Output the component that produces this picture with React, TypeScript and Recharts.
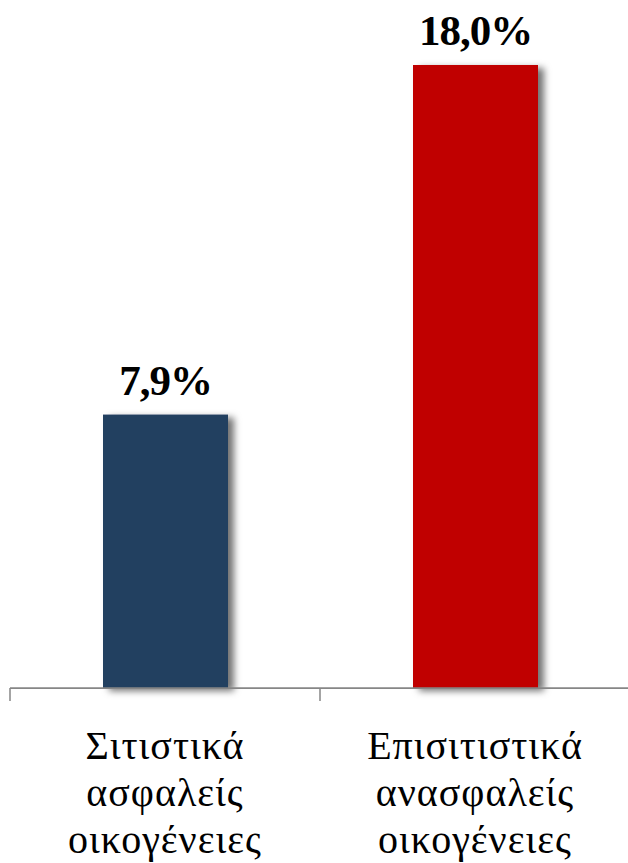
import React from "react";
import { BarChart, Bar, XAxis, YAxis, Cell, LabelList } from "recharts";

const CATEGORIES = ["Σιτιστικά ασφαλείς οικογένειες", "Επισιτιστικά ανασφαλείς οικογένειες"];
const VALUES = [7.9, 18.0];
const COLORS = ["#243F60", "#C00000"];

const data = CATEGORIES.map((name, i) => ({ name, value: VALUES[i] }));

const WIDTH = 628;
const HEIGHT = 863;
const MARGIN = { top: 65, right: -2, left: 10, bottom: 0 };
const XAXIS_HEIGHT = 175;
const PLOT_BOTTOM = HEIGHT - MARGIN.bottom - XAXIS_HEIGHT;
const BAND = (WIDTH - MARGIN.left - MARGIN.right) / CATEGORIES.length;
const FONT = "'Liberation Serif', 'Times New Roman', serif";

const fmt = (v: number) => v.toFixed(1).replace(".", ",") + "%";

const CategoryTick = (props: any) => {
  const { x, index, payload } = props;
  const lines = String(payload.value).split(" ");
  const half = BAND / 2;
  return (
    <g>
      <line x1={x - half} x2={x - half} y1={PLOT_BOTTOM} y2={PLOT_BOTTOM + 13} stroke="#868686" strokeWidth={1.5} />
      {index === CATEGORIES.length - 1 && (
        <line x1={x + half} x2={x + half} y1={PLOT_BOTTOM} y2={PLOT_BOTTOM + 13} stroke="#868686" strokeWidth={1.5} />
      )}
      <text x={x} y={PLOT_BOTTOM} textAnchor="middle" fontFamily={FONT} fontSize={40} letterSpacing={1} fill="#000">
        {lines.map((l, i) => (
          <tspan key={i} x={x} dy={i === 0 ? 71 : 47}>
            {l}
          </tspan>
        ))}
      </text>
    </g>
  );
};

const ValueLabel = (props: any) => {
  const { x, y, width, value } = props;
  return (
    <text x={x + width / 2} y={y - 20} textAnchor="middle" fontFamily={FONT} fontWeight="bold" fontSize={43} letterSpacing={-1} fill="#000">
      {fmt(value)}
    </text>
  );
};

const ShadowBar = (props: any) => {
  const { x, y, width, height, fill } = props;
  return <rect x={x} y={y} width={width} height={height} fill={fill} filter="url(#barShadow)" />;
};

export default function App() {
  return (
    <div style={{ position: "absolute", left: 0, top: 0, width: WIDTH, height: HEIGHT, background: "#fff" }}>
      <svg width={0} height={0} style={{ position: "absolute" }}>
        <defs>
          <filter id="barShadow" x="-20%" y="-5%" width="150%" height="115%">
            <feDropShadow dx={6} dy={3} stdDeviation={3.5} floodColor="#000" floodOpacity={0.55} />
          </filter>
        </defs>
      </svg>
      <BarChart width={WIDTH} height={HEIGHT} data={data} margin={MARGIN}>
        <YAxis hide domain={[0, 18]} />
        <XAxis
          dataKey="name"
          height={XAXIS_HEIGHT}
          tickLine={false}
          axisLine={{ stroke: "#868686", strokeWidth: 1.75 }}
          tick={<CategoryTick />}
          interval={0}
        />
        <Bar dataKey="value" barSize={125} isAnimationActive={false} shape={<ShadowBar />}>
          {data.map((_, i) => (
            <Cell key={i} fill={COLORS[i]} />
          ))}
          <LabelList dataKey="value" content={<ValueLabel />} />
        </Bar>
      </BarChart>
    </div>
  );
}
